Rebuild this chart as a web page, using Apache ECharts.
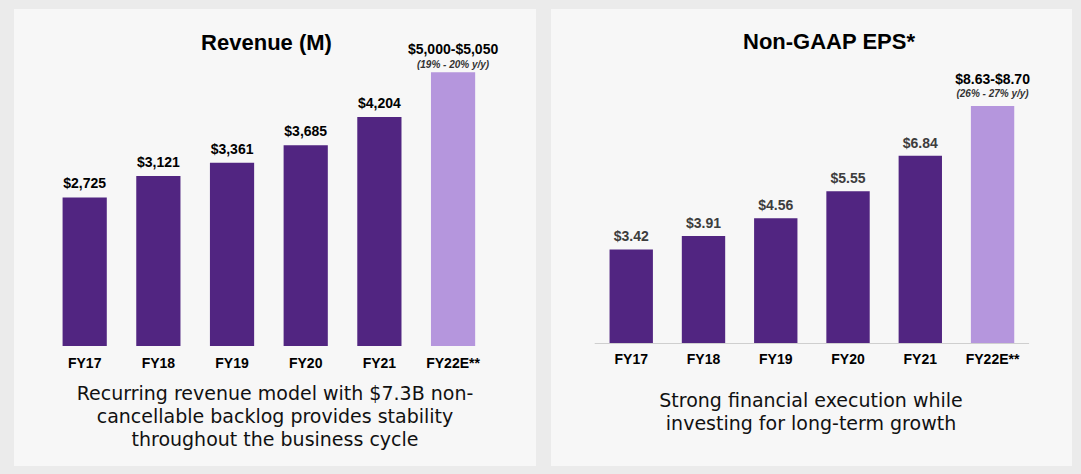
<!DOCTYPE html>
<html>
<head>
<meta charset="utf-8">
<script src="https://cdn.jsdelivr.net/npm/echarts@6/dist/echarts.min.js"></script>
<style>
html,body{margin:0;padding:0;background:#ebebeb;}
#chart{width:1081px;height:474px;}
</style>
</head>
<body>
<div id="chart"></div>
<script>
// ---- data ----
const categories = ['FY17', 'FY18', 'FY19', 'FY20', 'FY21', 'FY22E**'];
const revenueValues = [2725, 3121, 3361, 3685, 4204, 5025];
const revenueLabels = ['$2,725', '$3,121', '$3,361', '$3,685', '$4,204', '$5,000-$5,050'];
const revenueGrowth = ['', '', '', '', '', '(19% - 20% y/y)'];
const epsValues = [3.42, 3.91, 4.56, 5.55, 6.84, 8.665];
const epsLabels = ['$3.42', '$3.91', '$4.56', '$5.55', '$6.84', '$8.63-$8.70'];
const epsGrowth = ['', '', '', '', '', '(26% - 27% y/y)'];
const panelTitles = ['Revenue (M)', 'Non-GAAP EPS*'];
const captions = [
  'Recurring revenue model with $7.3B non-\ncancellable backlog provides stability\nthroughout the business cycle',
  'Strong financial execution while\ninvesting for long-term growth'
];

// ---- styles ----
const FONT = '"Liberation Sans", Arial, sans-serif';
const DARK = '#512581';
const LIGHT = '#b596dd';

function buildData(values, labels, growth, valueColor, dist, estDist) {
  return values.map(function (v, i) {
    const est = growth[i] !== '';
    return {
      value: v,
      itemStyle: { color: est ? LIGHT : DARK },
      label: est ? {
        distance: estDist,
        formatter: '{a|' + labels[i] + '}\n{b|' + growth[i] + '}',
        rich: {
          a: { fontSize: 14, fontWeight: 'bold', color: '#000', lineHeight: 16, fontFamily: FONT, align: 'center' },
          b: { fontSize: 10, fontStyle: 'italic', color: '#333', lineHeight: 14, fontFamily: FONT, align: 'center' }
        }
      } : {
        distance: dist,
        formatter: labels[i],
        color: valueColor
      }
    };
  });
}

const chart = echarts.init(document.getElementById('chart'), null, { renderer: 'svg' });

const option = {
  backgroundColor: '#ebebeb',
  animation: false,
  graphic: [
    { type: 'rect', z: -10, shape: { x: 14, y: 9, width: 522, height: 457 }, style: { fill: '#f7f7f7' } },
    { type: 'rect', z: -10, shape: { x: 551, y: 9, width: 521, height: 457 }, style: { fill: '#f7f7f7' } },
    { type: 'text', x: 266.5, y: 42, style: { text: panelTitles[0], font: 'bold 22px ' + FONT, fill: '#000', textAlign: 'center', textVerticalAlign: 'middle', align: 'center', verticalAlign: 'middle' } },
    { type: 'text', x: 829, y: 41.5, style: { text: panelTitles[1], font: 'bold 22px ' + FONT, fill: '#000', textAlign: 'center', textVerticalAlign: 'middle', align: 'center', verticalAlign: 'middle' } },
    { type: 'text', x: 275, y: 415.5, style: { text: captions[0], font: '19px "DejaVu Sans", sans-serif', lineHeight: 23, fill: '#111', textAlign: 'center', textVerticalAlign: 'middle', align: 'center', verticalAlign: 'middle' } },
    { type: 'text', x: 811, y: 411, style: { text: captions[1], font: '19px "DejaVu Sans", sans-serif', lineHeight: 23, fill: '#111', textAlign: 'center', textVerticalAlign: 'middle', align: 'center', verticalAlign: 'middle' } }
  ],
  grid: [
    { left: 47.85, right: 591.1, top: 19, bottom: 128 },
    { left: 595.1, right: 52.3, top: 69.4, bottom: 131 }
  ],
  xAxis: [
    {
      type: 'category', gridIndex: 0, data: categories,
      axisLine: { show: false }, axisTick: { show: false },
      axisLabel: { margin: 10, fontSize: 14, fontWeight: 'bold', color: '#000', fontFamily: FONT }
    },
    {
      type: 'category', gridIndex: 1, data: categories,
      axisLine: { show: true, lineStyle: { color: '#cfcfcf', width: 1 } }, axisTick: { show: false },
      axisLabel: { margin: 9, fontSize: 14, fontWeight: 'bold', color: '#000', fontFamily: FONT }
    }
  ],
  yAxis: [
    { type: 'value', gridIndex: 0, min: 0, max: 6000, show: false, splitLine: { show: false } },
    { type: 'value', gridIndex: 1, min: 0, max: 10, show: false, splitLine: { show: false } }
  ],
  series: [
    {
      type: 'bar', xAxisIndex: 0, yAxisIndex: 0, barWidth: '60%',
      label: { show: true, position: 'top', fontSize: 14, fontWeight: 'bold', lineHeight: 16, fontFamily: FONT, color: '#000' },
      data: buildData(revenueValues, revenueLabels, revenueGrowth, '#000', 6, 1)
    },
    {
      type: 'bar', xAxisIndex: 1, yAxisIndex: 1, barWidth: '60%',
      label: { show: true, position: 'top', fontSize: 14, fontWeight: 'bold', lineHeight: 16, fontFamily: FONT, color: '#3d3d3d' },
      data: buildData(epsValues, epsLabels, epsGrowth, '#3d3d3d', 5, 5)
    }
  ]
};
chart.setOption(option);
</script>
</body>
</html>
